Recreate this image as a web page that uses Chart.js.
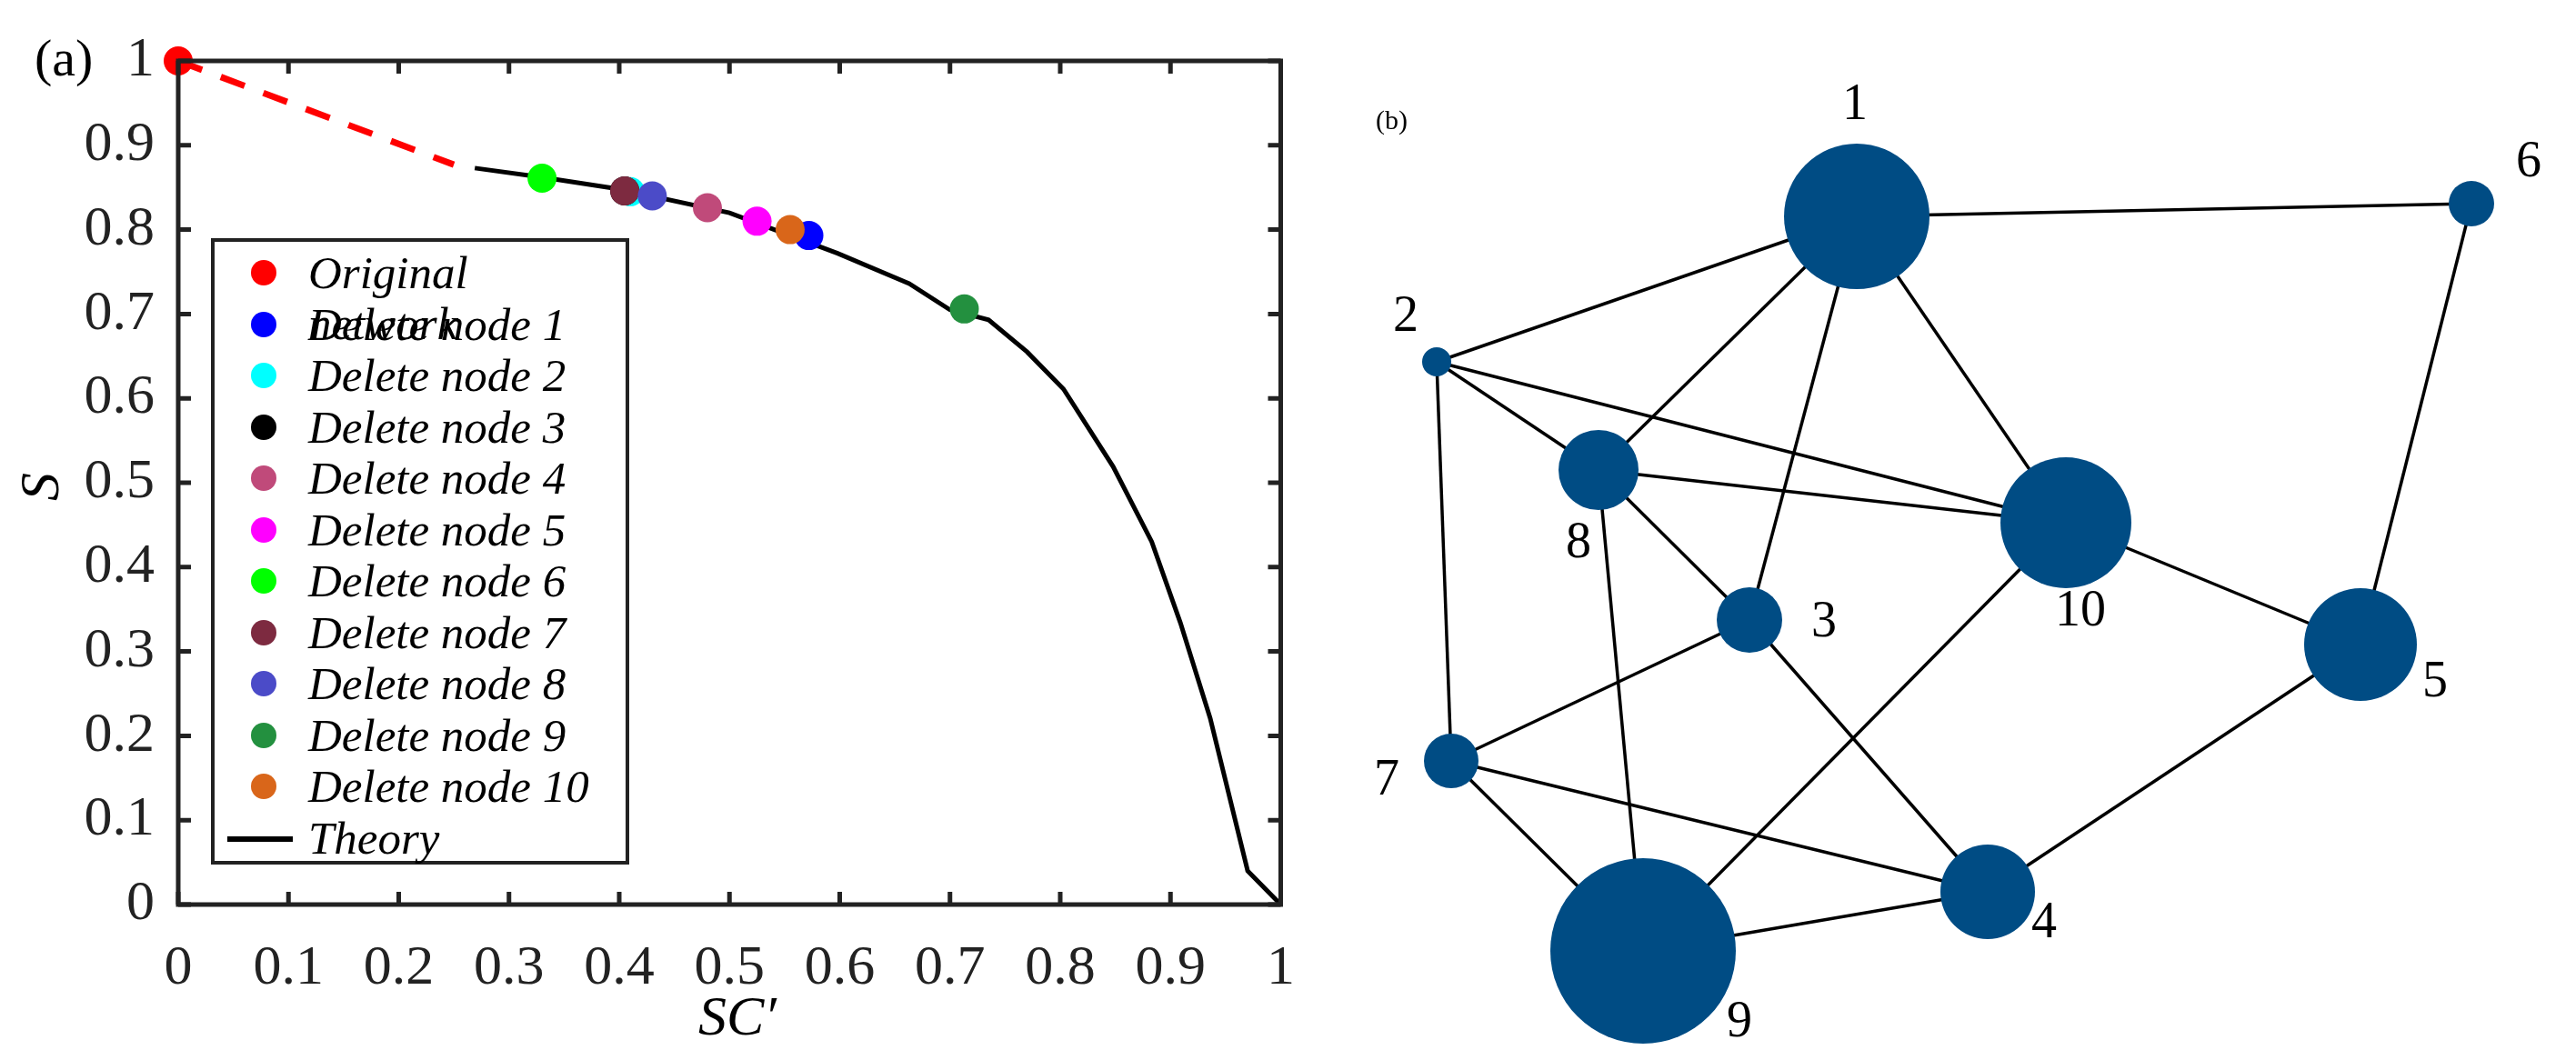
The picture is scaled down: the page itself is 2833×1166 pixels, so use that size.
<!DOCTYPE html>
<html>
<head>
<meta charset="utf-8">
<script src="https://cdn.jsdelivr.net/npm/chart.js@4.4.0/dist/chart.umd.min.js"></script>
<style>
  body { margin: 0; background: #fff; width: 2833px; height: 1166px; overflow: hidden; position: relative; font-family: "Liberation Serif", serif; }
  canvas { position: absolute; top: 0; }
  .txt { position: absolute; color: #000; white-space: nowrap; }
  #legend { position: absolute; left: 232px; top: 262px; width: 452px; height: 681px; border: 4px solid #222; background: #fff; box-sizing: content-box; }
  #legend div { position: absolute; left: 0; height: 56px; line-height: 56px; font-style: italic; font-size: 51px; }
  #legend span.dot { position: absolute; left: 40px; top: 14px; width: 28px; height: 28px; border-radius: 50%; }
  #legend span.ln { position: absolute; left: 14px; top: 26px; width: 72px; height: 6px; background: #000; }
  #legend span.lab { position: absolute; left: 103px; }
</style>
</head>
<body>
<canvas id="chartA" width="1450" height="1166" style="left:0"></canvas>
<canvas id="chartB" width="1383" height="1166" style="left:1450px"></canvas>
<div class="txt" style="left:38px;top:30px;font-size:58px;">(a)</div>
<div class="txt" style="left:28px;top:500px;font-size:62px;font-style:italic;transform:rotate(-90deg);">S</div>
<div class="txt" style="left:768px;top:1082px;font-size:62px;font-style:italic;">SC′</div>
<div class="txt" style="left:1513px;top:115px;font-size:30px;">(b)</div>
<div id="legend"></div>
<script>
// ---- panel (a) data ----
const seriesNames = ["Original network", "Delete node 1", "Delete node 2", "Delete node 3", "Delete node 4",
  "Delete node 5", "Delete node 6", "Delete node 7", "Delete node 8", "Delete node 9", "Delete node 10"];
const seriesColors = ["#ff0000", "#0000ff", "#00ffff", "#000000", "#c04a7a", "#ff00ff",
  "#00ff00", "#7d2a40", "#4b4bc8", "#23903f", "#d9661a"];
const scX = [0, 0.572, 0.41, 0.405, 0.48, 0.525, 0.33, 0.405, 0.43, 0.713, 0.555];
const sY = [1, 0.793, 0.845, 0.846, 0.826, 0.81, 0.861, 0.846, 0.84, 0.706, 0.8];
const theoryX = [0.269, 0.33, 0.4, 0.5, 0.598, 0.663, 0.7, 0.735, 0.77, 0.803, 0.848, 0.883, 0.909, 0.936, 0.97, 1];
const theoryY = [0.873, 0.862, 0.848, 0.82, 0.772, 0.736, 0.705, 0.693, 0.655, 0.611, 0.519, 0.43, 0.334, 0.221, 0.04, 0];
const dashX = [0, 0.25];
const dashY = [1, 0.877];
const xTicks = [0, 0.1, 0.2, 0.3, 0.4, 0.5, 0.6, 0.7, 0.8, 0.9, 1];
const yTicks = [0, 0.1, 0.2, 0.3, 0.4, 0.5, 0.6, 0.7, 0.8, 0.9, 1];

// ---- panel (b) data (layout coordinates) ----
const nodeIds = [1, 2, 3, 4, 5, 6, 7, 8, 9, 10];
const nodeX = [2042, 1580, 1924, 2186, 2596, 2718, 1596, 1758, 1807, 2272];
const nodeY = [238, 398, 682, 981, 709, 224, 837, 517, 1046, 575];
const nodeSize = [80, 16, 36, 52, 62, 25, 30, 44, 102, 72];
const labelX = [2040, 1546, 2006, 2248, 2678, 2781, 1525, 1736, 1913, 2288];
const labelY = [116, 349, 685, 1016, 751, 179, 859, 598, 1125, 673];
const edges = [[1,2],[1,6],[1,8],[1,3],[1,10],[2,8],[2,10],[2,7],[8,10],[8,3],[8,9],
  [3,7],[3,4],[10,9],[10,5],[6,5],[5,4],[7,4],[7,9],[9,4]];

// legend
const legend = document.getElementById("legend");
seriesNames.forEach((name, i) => {
  const row = document.createElement("div");
  row.style.top = (6 + i * 56.5) + "px";
  row.style.width = "100%";
  row.innerHTML = `<span class="dot" style="background:${seriesColors[i]}"></span><span class="lab">${name}</span>`;
  legend.appendChild(row);
});
const trow = document.createElement("div");
trow.style.top = (6 + 11 * 56.5) + "px";
trow.style.width = "100%";
trow.innerHTML = `<span class="ln"></span><span class="lab">Theory</span>`;
legend.appendChild(trow);

const frameA = {
  id: "frameA",
  afterDraw(chart) {
    const { ctx, chartArea: a, scales } = chart;
    ctx.save();
    ctx.strokeStyle = "#222";
    ctx.lineWidth = 5;
    ctx.beginPath();
    xTicks.forEach(v => {
      const px = scales.x.getPixelForValue(v);
      ctx.moveTo(px, a.bottom); ctx.lineTo(px, a.bottom - 14);
      ctx.moveTo(px, a.top); ctx.lineTo(px, a.top + 14);
    });
    yTicks.forEach(v => {
      const py = scales.y.getPixelForValue(v);
      ctx.moveTo(a.left, py); ctx.lineTo(a.left + 14, py);
      ctx.moveTo(a.right, py); ctx.lineTo(a.right - 14, py);
    });
    ctx.stroke();
    ctx.strokeRect(a.left, a.top, a.right - a.left, a.bottom - a.top);
    ctx.restore();
  }
};

// later series drawn on top (lower order = on top)
const pointSets = seriesNames.map((name, i) => ({
  label: name,
  type: "scatter",
  data: [{ x: scX[i], y: sY[i] }],
  backgroundColor: seriesColors[i],
  borderWidth: 0,
  pointRadius: 16,
  clip: false,
  order: 50 - i
}));

new Chart(document.getElementById("chartA"), {
  type: "scatter",
  data: {
    datasets: [
      { label: "dash", type: "line", data: dashX.map((x, i) => ({ x, y: dashY[i] })),
        borderColor: "#ff0000", borderWidth: 7, borderDash: [28, 22], pointRadius: 0, clip: false, order: 100 },
      { label: "Theory", type: "line", data: theoryX.map((x, i) => ({ x, y: theoryY[i] })),
        borderColor: "#000", borderWidth: 5, pointRadius: 0, clip: false, order: 100 },
      ...pointSets
    ]
  },
  options: {
    responsive: false,
    animation: false,
    layout: { autoPadding: false, padding: { top: 67, right: 28, left: 0, bottom: 0 } },
    plugins: { legend: { display: false }, tooltip: { enabled: false } },
    scales: {
      x: {
        type: "linear", min: 0, max: 1,
        afterFit: s => { s.height = 171; },
        afterBuildTicks: s => { s.ticks = xTicks.map(v => ({ value: v })); },
        grid: { display: false },
        border: { display: false },
        ticks: { padding: 26, color: "#222", font: { family: "Liberation Serif", size: 62 },
          maxRotation: 0, callback: v => String(v) }
      },
      y: {
        type: "linear", min: 0, max: 1,
        afterFit: s => { s.width = 196; },
        afterBuildTicks: s => { s.ticks = yTicks.map(v => ({ value: v })); },
        grid: { display: false },
        border: { display: false },
        ticks: { padding: 18, color: "#222", font: { family: "Liberation Serif", size: 62 },
          callback: v => String(v) }
      }
    }
  },
  plugins: [frameA]
});

// panel (b)
const nodeLabels = {
  id: "nodeLabels",
  afterDraw(chart) {
    const { ctx, scales } = chart;
    ctx.save();
    ctx.fillStyle = "#000";
    ctx.font = "56px 'Liberation Serif'";
    ctx.textAlign = "center";
    ctx.textBaseline = "middle";
    nodeIds.forEach((id, i) => {
      ctx.fillText(String(id), scales.x.getPixelForValue(labelX[i]), scales.y.getPixelForValue(labelY[i]));
    });
    ctx.restore();
  }
};

const edgeSets = edges.map(([a, b]) => ({
  type: "line",
  data: [{ x: nodeX[a - 1], y: nodeY[a - 1] }, { x: nodeX[b - 1], y: nodeY[b - 1] }],
  borderColor: "#000", borderWidth: 3.5, pointRadius: 0, order: 2
}));

new Chart(document.getElementById("chartB"), {
  type: "bubble",
  data: {
    datasets: [
      { type: "bubble", data: nodeIds.map((id, i) => ({ x: nodeX[i], y: nodeY[i], r: nodeSize[i] })),
        backgroundColor: "#004c84", borderWidth: 0, order: 1, clip: false },
      ...edgeSets
    ]
  },
  options: {
    responsive: false,
    animation: false,
    layout: { autoPadding: false, padding: 0 },
    plugins: { legend: { display: false }, tooltip: { enabled: false } },
    scales: {
      x: { type: "linear", min: 1450, max: 2833, display: false },
      y: { type: "linear", min: 0, max: 1166, reverse: true, display: false }
    }
  },
  plugins: [nodeLabels]
});
</script>
</body>
</html>
